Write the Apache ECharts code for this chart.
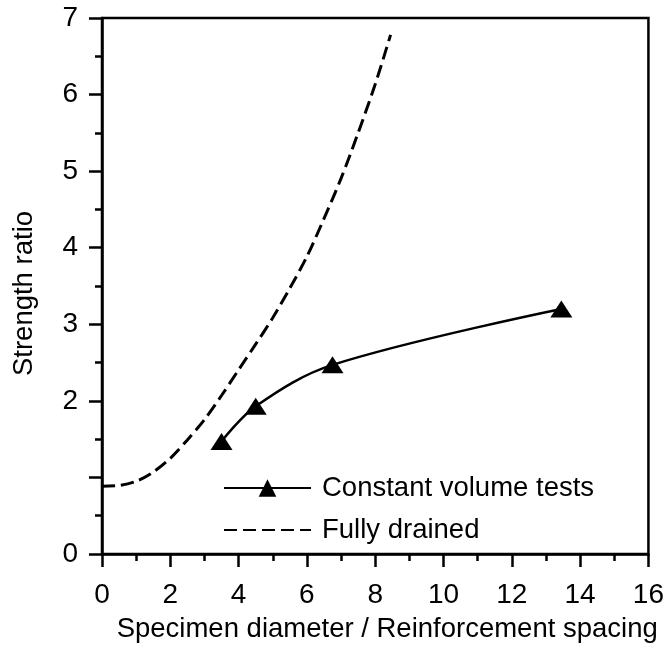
<!DOCTYPE html>
<html>
<head>
<meta charset="utf-8">
<script src="https://cdn.jsdelivr.net/npm/echarts@6/dist/echarts.min.js"></script>
<style>
html,body{margin:0;padding:0;background:#fff;}
#chart{width:667px;height:648px;}
</style>
</head>
<body>
<div id="chart"></div>
<script>
// Constant volume tests (triangles)
const cvX = [3.5, 4.5, 6.75, 13.45];
const cvY = [1.47, 1.93, 2.47, 3.2];
// Fully drained (dashed curve)
const fdX = [0, 0.5, 1, 1.5, 2, 2.5, 3, 3.5, 4, 4.5, 5, 5.5, 6, 6.5, 7, 7.5, 8, 8.45];
const fdY = [0.885, 0.895, 0.95, 1.07, 1.25, 1.49, 1.755, 2.07, 2.405, 2.74, 3.085, 3.47, 3.885, 4.38, 4.905, 5.50, 6.135, 6.78];
const seriesNames = ['Constant volume tests', 'Fully drained'];
const xTitle = 'Specimen diameter / Reinforcement spacing';
const yTitle = 'Strength ratio';
const hiddenYLabels = [1];

const font = 'Liberation Sans, Arial, Helvetica, sans-serif';
const chart = echarts.init(document.getElementById('chart'));
chart.setOption({
  animation: false,
  backgroundColor: '#fff',
  grid: {left: 102, right: 15, top: 18, bottom: 87, show: true, borderColor: '#000', borderWidth: 2.5},
  legend: {
    left: 218, top: 469, orient: 'vertical',
    itemWidth: 87, itemHeight: 22, itemGap: 14,
    data: seriesNames,
    textStyle: {fontFamily: font, fontSize: 27.5, color: '#000', lineHeight: 27, padding: [0, 0, 0, 6]}
  },
  xAxis: {
    type: 'value', min: 0, max: 16, interval: 2,
    name: xTitle, nameLocation: 'middle', nameGap: 61,
    nameTextStyle: {fontFamily: font, fontSize: 27.5, color: '#000', padding: [0, 0, 0, 24]},
    axisLine: {lineStyle: {color: '#000', width: 2.5}},
    axisTick: {length: 13, lineStyle: {color: '#000', width: 2.5}},
    minorTick: {show: true, splitNumber: 2, length: 7, lineStyle: {color: '#000', width: 2.5}},
    splitLine: {show: false},
    axisLabel: {fontFamily: font, fontSize: 28, color: '#000', margin: 27}
  },
  yAxis: {
    type: 'value', min: 0, max: 7, interval: 1,
    name: yTitle, nameLocation: 'middle', nameGap: 64, nameRotate: 90,
    nameTextStyle: {fontFamily: font, fontSize: 27.5, color: '#000', padding: [0, 15, 0, 0]},
    axisLine: {lineStyle: {color: '#000', width: 2.5}},
    axisTick: {length: 13, lineStyle: {color: '#000', width: 2.5}},
    minorTick: {show: true, splitNumber: 2, length: 7, lineStyle: {color: '#000', width: 2.5}},
    splitLine: {show: false},
    axisLabel: {fontFamily: font, fontSize: 28, color: '#000', margin: 24,
      formatter: v => hiddenYLabels.includes(v) ? '' : String(v)}
  },
  series: [
    {
      name: seriesNames[0], type: 'line', smooth: 0.35,
      data: cvX.map((x, i) => [x, cvY[i]]),
      symbol: 'triangle', symbolSize: [22, 17],
      itemStyle: {color: '#000'},
      lineStyle: {color: '#000', width: 2.5}
    },
    {
      name: seriesNames[1], type: 'line', smooth: 0.3, showSymbol: false, symbol: 'none', symbolSize: 0,
      data: fdX.map((x, i) => [x, fdY[i]]),
      itemStyle: {color: '#000', opacity: 0},
      lineStyle: {color: '#000', width: 3, type: [13, 6]}
    }
  ]
});
</script>
</body>
</html>
